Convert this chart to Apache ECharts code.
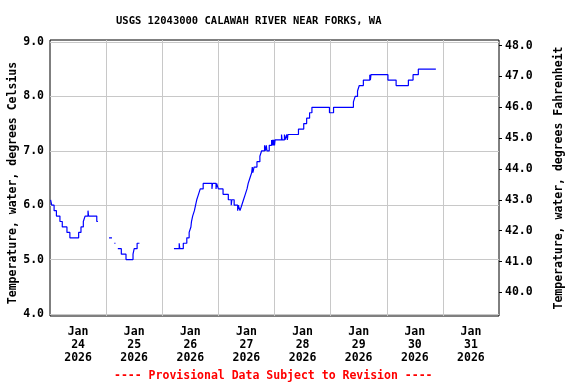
<!DOCTYPE html>
<html>
<head>
<meta charset="utf-8">
<script src="https://cdn.jsdelivr.net/npm/echarts@6/dist/echarts.min.js"></script>
<style>html,body{margin:0;padding:0;background:#fff}#c{width:576px;height:384px}</style>
</head>
<body>
<div id="c"></div>
<script>
var titleText = 'USGS 12043000 CALAWAH RIVER NEAR FORKS, WA';
var footerText = '---- Provisional Data Subject to Revision ----';
var leftAxisName = 'Temperature, water, degrees Celsius';
var rightAxisName = 'Temperature, water, degrees Fahrenheit';
var dayLabels = ['2026-01-24','2026-01-25','2026-01-26','2026-01-27','2026-01-28','2026-01-29','2026-01-30','2026-01-31'];
var celsiusTicks = [4, 5, 6, 7, 8, 9];
var fahrenheitTicks = [40, 41, 42, 43, 44, 45, 46, 47, 48];
// change points: value holds until the next time; null marks a gap
var times = [
 '2026-01-24 00:15','2026-01-24 00:45','2026-01-24 01:45','2026-01-24 02:45','2026-01-24 04:15','2026-01-24 05:15',
 '2026-01-24 07:15','2026-01-24 08:30','2026-01-24 12:15','2026-01-24 13:15','2026-01-24 14:15','2026-01-24 15:00',
 '2026-01-24 16:15','2026-01-24 16:30','2026-01-24 20:00','2026-01-24 20:30','2026-01-24 20:45',
 '2026-01-25 01:15','2026-01-25 02:30','2026-01-25 02:45',
 '2026-01-25 03:30','2026-01-25 03:45','2026-01-25 04:00',
 '2026-01-25 05:00','2026-01-25 06:30','2026-01-25 08:30','2026-01-25 11:30','2026-01-25 12:00','2026-01-25 13:15',
 '2026-01-25 14:15','2026-01-25 14:30',
 '2026-01-26 05:00','2026-01-26 07:15','2026-01-26 07:30','2026-01-26 09:00','2026-01-26 10:30','2026-01-26 11:30',
 '2026-01-26 12:15','2026-01-26 12:30','2026-01-26 13:00','2026-01-26 13:45','2026-01-26 14:15','2026-01-26 14:45',
 '2026-01-26 15:30','2026-01-26 16:15','2026-01-26 17:30','2026-01-26 21:15','2026-01-26 21:30','2026-01-26 23:00',
 '2026-01-26 23:15',
 '2026-01-27 00:00','2026-01-27 02:00','2026-01-27 04:15','2026-01-27 05:30','2026-01-27 05:45','2026-01-27 06:45',
 '2026-01-27 08:15','2026-01-27 08:30','2026-01-27 09:15','2026-01-27 10:00','2026-01-27 10:45','2026-01-27 11:30',
 '2026-01-27 12:15','2026-01-27 12:45','2026-01-27 13:30','2026-01-27 14:15','2026-01-27 14:30','2026-01-27 14:45',
 '2026-01-27 15:15','2026-01-27 16:30','2026-01-27 17:45','2026-01-27 18:30','2026-01-27 19:45','2026-01-27 20:00',
 '2026-01-27 20:30','2026-01-27 20:45','2026-01-27 21:45','2026-01-27 22:45','2026-01-27 23:00','2026-01-27 23:15',
 '2026-01-27 23:30','2026-01-27 23:45',
 '2026-01-28 00:00','2026-01-28 00:15','2026-01-28 03:00','2026-01-28 03:15','2026-01-28 04:15','2026-01-28 04:30',
 '2026-01-28 05:15','2026-01-28 05:30','2026-01-28 05:45','2026-01-28 10:15','2026-01-28 12:30','2026-01-28 13:45',
 '2026-01-28 15:00','2026-01-28 16:00','2026-01-28 23:30',
 '2026-01-29 01:15','2026-01-29 09:45','2026-01-29 10:30','2026-01-29 11:30','2026-01-29 12:15','2026-01-29 14:00',
 '2026-01-29 16:45','2026-01-29 17:00','2026-01-29 17:15',
 '2026-01-30 00:30','2026-01-30 04:00','2026-01-30 09:15','2026-01-30 11:15','2026-01-30 13:30','2026-01-30 21:00'
];
var tempC = [
 6.1,6.0,5.9,5.8,5.7,5.6,
 5.5,5.4,5.5,5.6,5.7,5.8,
 5.9,5.8,5.7,5.7,null,
 5.4,5.4,null,
 5.3,5.3,null,
 5.2,5.1,5.0,5.1,5.2,5.3,
 5.3,null,
 5.2,5.3,5.2,5.3,5.4,5.5,
 5.6,5.7,5.8,5.9,6.0,6.1,
 6.2,6.3,6.4,6.3,6.4,6.3,
 6.4,
 6.3,6.2,6.1,6.0,6.1,6.0,
 5.9,6.0,5.9,6.0,6.1,6.2,
 6.3,6.4,6.5,6.6,6.7,6.6,
 6.7,6.8,6.9,7.0,7.1,7.0,
 7.1,7.0,7.1,7.2,7.1,7.2,
 7.1,7.2,
 7.1,7.2,7.3,7.2,7.3,7.2,
 7.3,7.2,7.3,7.4,7.5,7.6,
 7.7,7.8,7.7,
 7.8,7.9,8.0,8.1,8.2,8.3,
 8.4,8.3,8.4,
 8.3,8.2,8.3,8.4,8.5,8.5
];

function parseUTC(s) {
  var p = s.split(/[- :]/).map(Number);
  return Date.UTC(p[0], p[1] - 1, p[2], p[3] || 0, p[4] || 0);
}
var DAY = 86400000;
var xMin = parseUTC(dayLabels[0] + ' 00:00');
var xMax = xMin + 8 * DAY;
var labelTimes = dayLabels.map(function (d) { return parseUTC(d + ' 12:00'); });
var MONTHS = ['Jan','Feb','Mar','Apr','May','Jun','Jul','Aug','Sep','Oct','Nov','Dec'];
var seriesData = times.map(function (t, i) { return [parseUTC(t), tempC[i]]; });

var FONT = 'DejaVu Sans Mono';
var chart = echarts.init(document.getElementById('c'), null, { renderer: 'canvas' });
chart.setOption({
  animation: false,
  backgroundColor: '#fff',
  graphic: [
    { type: 'text', left: 116, top: 16, style: { text: titleText, font: 'bold 10.5px "DejaVu Sans Mono"', fill: '#000' } },
    { type: 'text', left: 114, top: 370, style: { text: footerText, font: 'bold 11.5px "DejaVu Sans Mono"', fill: '#ff0000' } }
  ],
  grid: { left: 50, right: 77, top: 40, bottom: 68, show: true, borderColor: '#000', borderWidth: 1, backgroundColor: 'transparent', containLabel: false, outerBoundsMode: 'none' },
  xAxis: {
    type: 'value', min: xMin, max: xMax, interval: DAY,
    axisLine: { show: false },
    axisTick: { show: false },
    splitLine: { show: true, showMinLine: false, showMaxLine: false, lineStyle: { color: '#c8c8c8', width: 1 } },
    axisLabel: {
      customValues: labelTimes,
      margin: 10,
      fontFamily: FONT, fontWeight: 'bold', fontSize: 11.5, lineHeight: 13, color: '#000',
      formatter: function (v) {
        var d = new Date(v);
        return MONTHS[d.getUTCMonth()] + '\n' + d.getUTCDate() + '\n' + d.getUTCFullYear();
      }
    }
  },
  yAxis: [
    {
      type: 'value', min: 3.963, max: 9.037, position: 'left',
      name: leftAxisName, nameLocation: 'middle', nameGap: 31, nameRotate: 90, nameMoveOverlap: false,
      nameTextStyle: { fontFamily: FONT, fontWeight: 'bold', fontSize: 11.5, color: '#000', padding: [0, 10, 0, 0] },
      axisLine: { show: false },
      axisTick: { show: false },
      splitLine: { show: true, showMinLine: false, showMaxLine: false, lineStyle: { color: '#c8c8c8', width: 1 } },
      axisLabel: {
        customValues: celsiusTicks, margin: 6,
        fontFamily: FONT, fontWeight: 'bold', fontSize: 11.5, color: '#000',
        formatter: function (v) { return v.toFixed(1); }
      }
    },
    {
      type: 'value', min: 39.236, max: 48.18, position: 'right',
      name: rightAxisName, nameLocation: 'middle', nameGap: 54, nameRotate: 90, nameMoveOverlap: false,
      nameTextStyle: { fontFamily: FONT, fontWeight: 'bold', fontSize: 11.5, color: '#000' },
      axisLine: { show: false },
      axisTick: { show: true, customValues: fahrenheitTicks, length: 3, inside: false, lineStyle: { color: '#000' } },
      splitLine: { show: false },
      axisLabel: {
        customValues: fahrenheitTicks, margin: 6,
        fontFamily: FONT, fontWeight: 'bold', fontSize: 11.5, color: '#000',
        formatter: function (v) { return v.toFixed(1); }
      }
    }
  ],
  series: [{
    type: 'line', yAxisIndex: 0, data: seriesData, step: 'end',
    showSymbol: false, connectNulls: false,
    lineStyle: { color: '#0000ff', width: 1.2 },
    itemStyle: { color: '#0000ff' }
  }]
});
</script>
</body>
</html>
